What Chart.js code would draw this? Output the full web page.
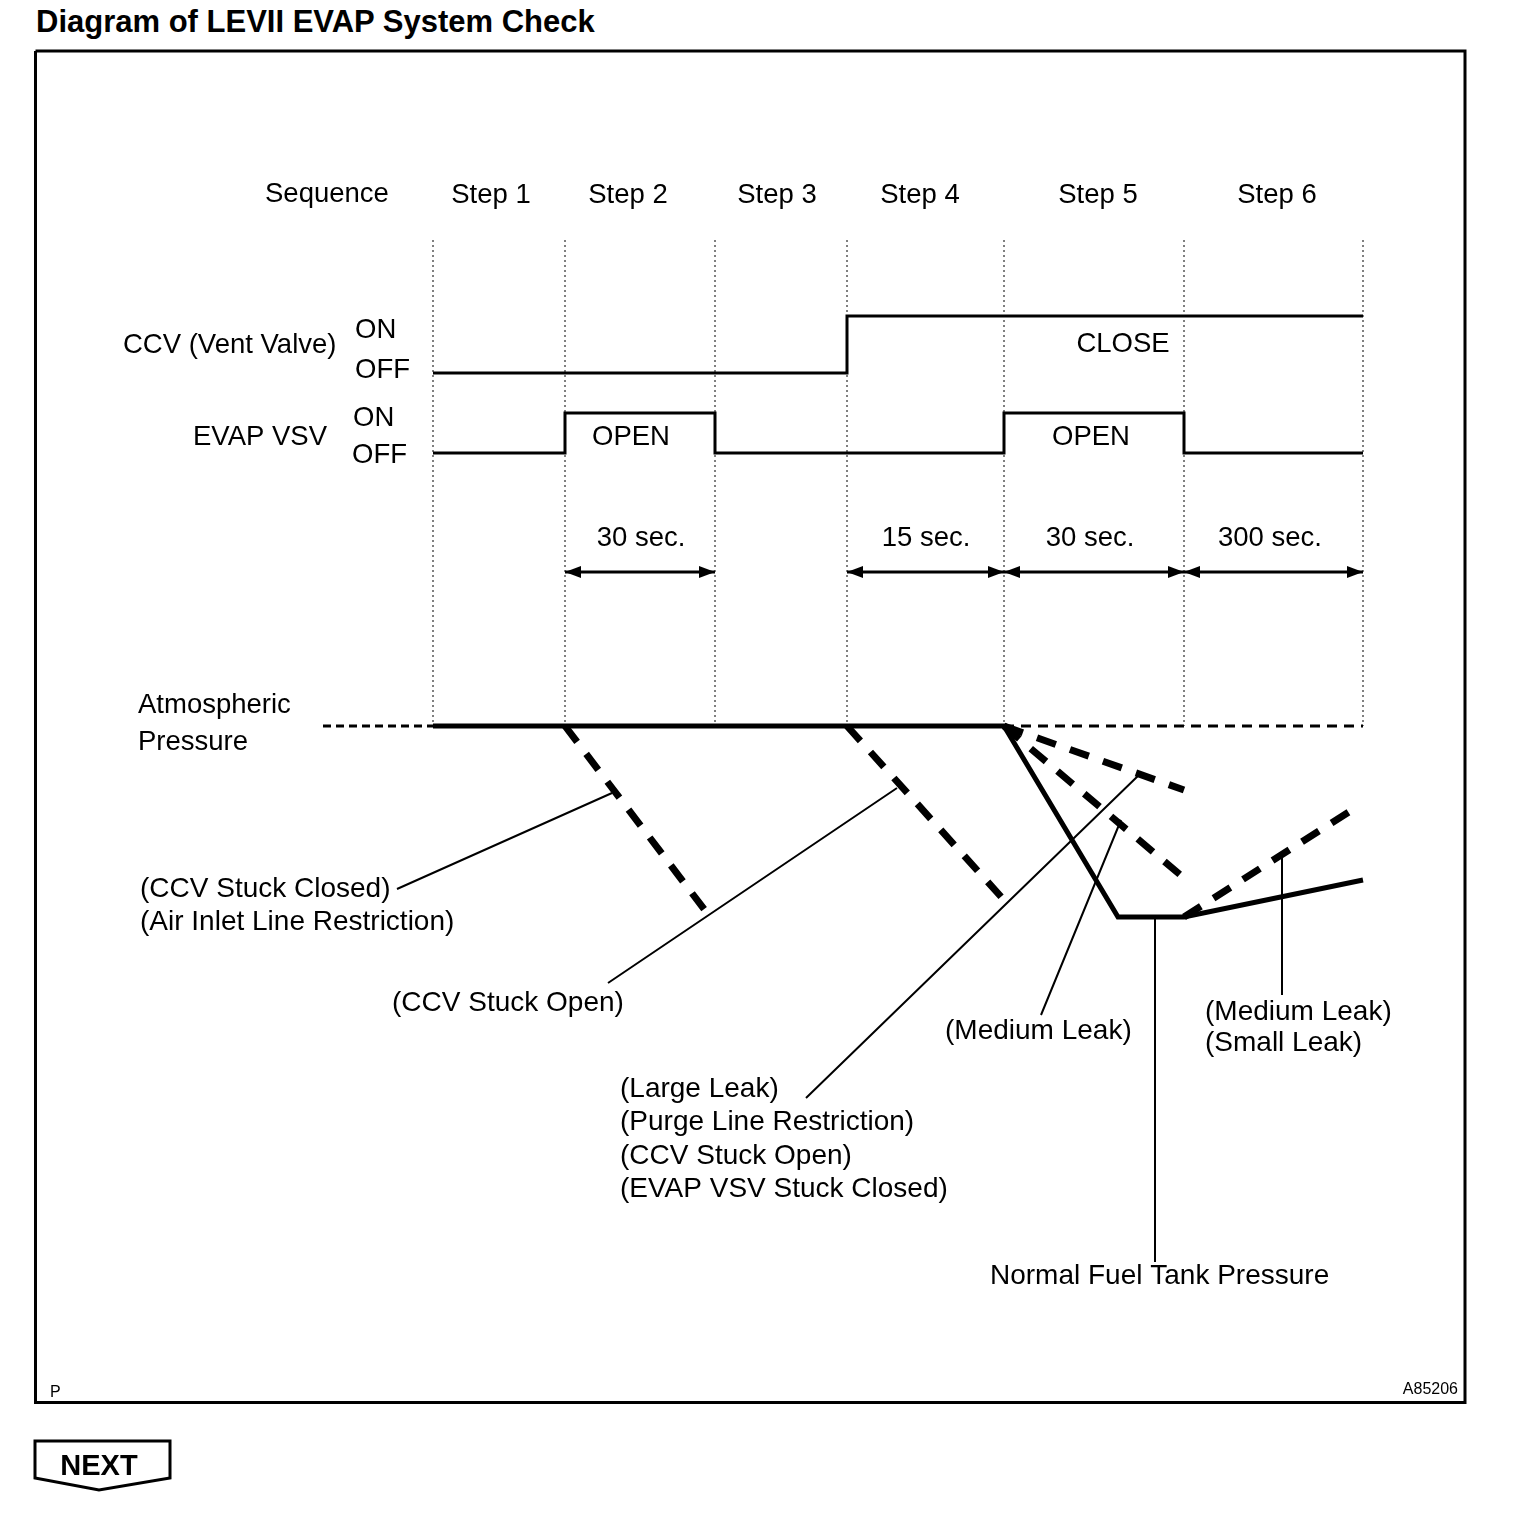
<!DOCTYPE html>
<html><head><meta charset="utf-8">
<script src="https://cdn.jsdelivr.net/npm/chart.js@4/dist/chart.umd.min.js"></script>
<style>
html,body{margin:0;padding:0;background:#fff;}
body{width:1536px;height:1520px;position:relative;overflow:hidden;font-family:"Liberation Sans",Arial,Helvetica,sans-serif;color:#000;}
#title{position:absolute;left:36px;top:5px;font-weight:bold;font-size:31px;line-height:34px;white-space:nowrap;}
#chart{position:absolute;left:0;top:0;}
#nextBox{position:absolute;left:0;top:0;}
#nextText{position:absolute;left:36px;top:1449px;width:126px;text-align:center;font-weight:bold;font-size:29px;line-height:32px;}
</style></head>
<body>
<div id="title">Diagram of LEVII EVAP System Check</div>
<canvas id="chart" width="1536" height="1520"></canvas>
<svg id="nextBox" width="1536" height="1520"><polygon points="35,1441 170,1441 170,1478 99,1490 35,1478" fill="none" stroke="#000" stroke-width="3" stroke-linejoin="miter"/></svg>
<div id="nextText">NEXT</div>
<script>
// ---- data (timeline units; pressure relative to atmospheric = 0) ----
const steps = ['Step 1','Step 2','Step 3','Step 4','Step 5','Step 6'];
const stepEdges = [0, 132, 282, 414, 571, 751, 930];
const ccvState = [0, 0, 0, 1, 1, 1];      // 0 = OFF, 1 = ON (CLOSE)
const vsvState = [0, 1, 0, 0, 1, 0];      // 0 = OFF, 1 = ON (OPEN)
const ccvLevel = [353, 410];              // OFF, ON
const vsvLevel = [273, 313];              // OFF, ON
const durationLabels = ['30 sec.', '15 sec.', '30 sec.', '300 sec.'];
const durationSteps = [1, 3, 4, 5];       // index of step spanned
const durationLevel = 154;
const gridTop = 486;
const atmospheric = 0;
const atmLeft = [-110, 0];
const atmRight = [571, 930];
const normalPressure = [[0,0],[571,0],[685,-191],[751,-191],[930,-154]];
const ccvStuckClosed = [[132,0],[274,-187]];
const ccvStuckOpen = [[414,0],[571,-174]];
const largeLeak = [[571,0],[751,-64]];
const mediumLeak5 = [[571,0],[751,-152]];
const leak6 = [[751,-191],[922,-82]];
const leaders = [
  [[-36,-163],[179,-67]],
  [[175,-257],[464,-62]],
  [[373,-372],[708,-47]],
  [[608,-289],[688,-94]],
  [[722,-191],[722,-536]],
  [[849,-129],[849,-269]]
];
const frame = [[-397.5,675],[1032,675],[1032,-676.5],[-397.5,-676.5],[-397.5,675]];

// ---- build datasets ----
const pts = a => a.map(p => ({x:p[0], y:p[1]}));
function stepLine(states, levels){
  const out = [];
  states.forEach((s,i)=>{ out.push({x:stepEdges[i], y:levels[s]}); out.push({x:stepEdges[i+1], y:levels[s]}); });
  return out;
}
const gridPts = [];
stepEdges.forEach(e => { gridPts.push({x:e,y:gridTop}); gridPts.push({x:e,y:atmospheric}); gridPts.push({x:e,y:null}); });
const durPts = [];
durationSteps.forEach(i => { durPts.push({x:stepEdges[i],y:durationLevel}); durPts.push({x:stepEdges[i+1],y:durationLevel}); durPts.push({x:stepEdges[i+1],y:null}); });
const leaderPts = [];
leaders.forEach(l => { leaderPts.push(...pts(l)); leaderPts.push({x:l[1][0], y:null}); });

const base = {showLine:true, pointRadius:0, borderColor:'#000', backgroundColor:'#000', fill:false, tension:0, borderCapStyle:'butt', borderJoinStyle:'miter', spanGaps:false, clip:false};
const datasets = [
  {...base, label:'frame', data:pts(frame), borderWidth:3},
  {...base, label:'grid', data:gridPts, borderWidth:1, borderDash:[2,3]},
  {...base, label:'CCV', data:stepLine(ccvState, ccvLevel), borderWidth:3},
  {...base, label:'VSV', data:stepLine(vsvState, vsvLevel), borderWidth:3},
  {...base, label:'durations', data:durPts, borderWidth:3},
  {...base, label:'atmL', data:[{x:atmLeft[0],y:atmospheric},{x:atmLeft[1],y:atmospheric}], borderWidth:3, borderDash:[8,5]},
  {...base, label:'atmR', data:[{x:atmRight[0],y:atmospheric},{x:atmRight[1],y:atmospheric}], borderWidth:3, borderDash:[10,7]},
  {...base, label:'leaders', data:leaderPts, borderWidth:2},
  {...base, label:'ccvStuckClosed', data:pts(ccvStuckClosed), borderWidth:7, borderDash:[20,15]},
  {...base, label:'ccvStuckOpen', data:pts(ccvStuckOpen), borderWidth:7, borderDash:[20,15]},
  {...base, label:'largeLeak', data:pts(largeLeak), borderWidth:7, borderDash:[20,15]},
  {...base, label:'mediumLeak5', data:pts(mediumLeak5), borderWidth:7, borderDash:[20,15]},
  {...base, label:'leak6', data:pts(leak6), borderWidth:7, borderDash:[20,15]},
  {...base, label:'normal', data:pts(normalPressure), borderWidth:5}
];

// ---- text layout (timeline units) ----
const F = 27.5, FL = 28;
const stepLabelX = [58, 195, 344, 487, 665, 844];
const labels = [
  {t:'Sequence', x:-168, y:534, a:'left'},
  ...steps.map((s,i)=>({t:s, x:stepLabelX[i], y:533, a:'center'})),
  {t:'CCV (Vent Valve)', x:-310, y:383, a:'left'},
  {t:'ON', x:-78, y:398, a:'left'},
  {t:'OFF', x:-78, y:358, a:'left'},
  {t:'EVAP VSV', x:-240, y:291, a:'left'},
  {t:'ON', x:-80, y:310, a:'left'},
  {t:'OFF', x:-81, y:273, a:'left'},
  {t:'CLOSE', x:690, y:384, a:'center'},
  {t:'OPEN', x:198, y:291, a:'center'},
  {t:'OPEN', x:658, y:291, a:'center'},
  ...durationLabels.map((s,i)=>({t:s, x:[208,493,657,837][i], y:190, a:'center'})),
  {t:'Atmospheric', x:-295, y:23, a:'left'},
  {t:'Pressure', x:-295, y:-14, a:'left'},
  {t:'(CCV Stuck Closed)', x:-293, y:-161, a:'left', s:FL},
  {t:'(Air Inlet Line Restriction)', x:-293, y:-194, a:'left', s:FL},
  {t:'(CCV Stuck Open)', x:-41, y:-275, a:'left', s:FL},
  {t:'(Large Leak)', x:187, y:-361, a:'left', s:FL},
  {t:'(Purge Line Restriction)', x:187, y:-394, a:'left', s:FL},
  {t:'(CCV Stuck Open)', x:187, y:-428, a:'left', s:FL},
  {t:'(EVAP VSV Stuck Closed)', x:187, y:-461, a:'left', s:FL},
  {t:'(Medium Leak)', x:512, y:-303, a:'left', s:FL},
  {t:'(Medium Leak)', x:772, y:-284, a:'left', s:FL},
  {t:'(Small Leak)', x:772, y:-315, a:'left', s:FL},
  {t:'Normal Fuel Tank Pressure', x:557, y:-548, a:'left', s:FL},
  {t:'P', x:-383, y:-665, a:'left', s:16},
  {t:'A85206', x:1025, y:-662, a:'right', s:16}
];

const overlay = {
  id:'overlay',
  afterDatasetsDraw(chart){
    const {ctx, scales:{x, y}} = chart;
    ctx.save();
    ctx.fillStyle = '#000';
    const head = (px, py, dir) => {
      ctx.beginPath();
      ctx.moveTo(px, py);
      ctx.lineTo(px - dir*16, py - 6);
      ctx.lineTo(px - dir*16, py + 6);
      ctx.closePath(); ctx.fill();
    };
    durationSteps.forEach(i => {
      const py = y.getPixelForValue(durationLevel);
      head(x.getPixelForValue(stepEdges[i]), py, -1);
      head(x.getPixelForValue(stepEdges[i+1]), py, 1);
    });
    labels.forEach(l => {
      const s = l.s || F;
      ctx.font = s + 'px "Liberation Sans", Arial, sans-serif';
      ctx.textAlign = l.a;
      ctx.textBaseline = 'alphabetic';
      ctx.fillText(l.t, x.getPixelForValue(l.x), y.getPixelForValue(l.y) + 0.358*s);
    });
    ctx.restore();
  }
};

new Chart(document.getElementById('chart'), {
  type:'scatter',
  data:{datasets},
  options:{
    responsive:false, animation:false, devicePixelRatio:1,
    layout:{padding:0},
    plugins:{legend:{display:false}, tooltip:{enabled:false}},
    scales:{
      x:{type:'linear', min:-433, max:1103, display:false},
      y:{type:'linear', min:-794, max:726, display:false}
    }
  },
  plugins:[overlay]
});
</script>
</body></html>
